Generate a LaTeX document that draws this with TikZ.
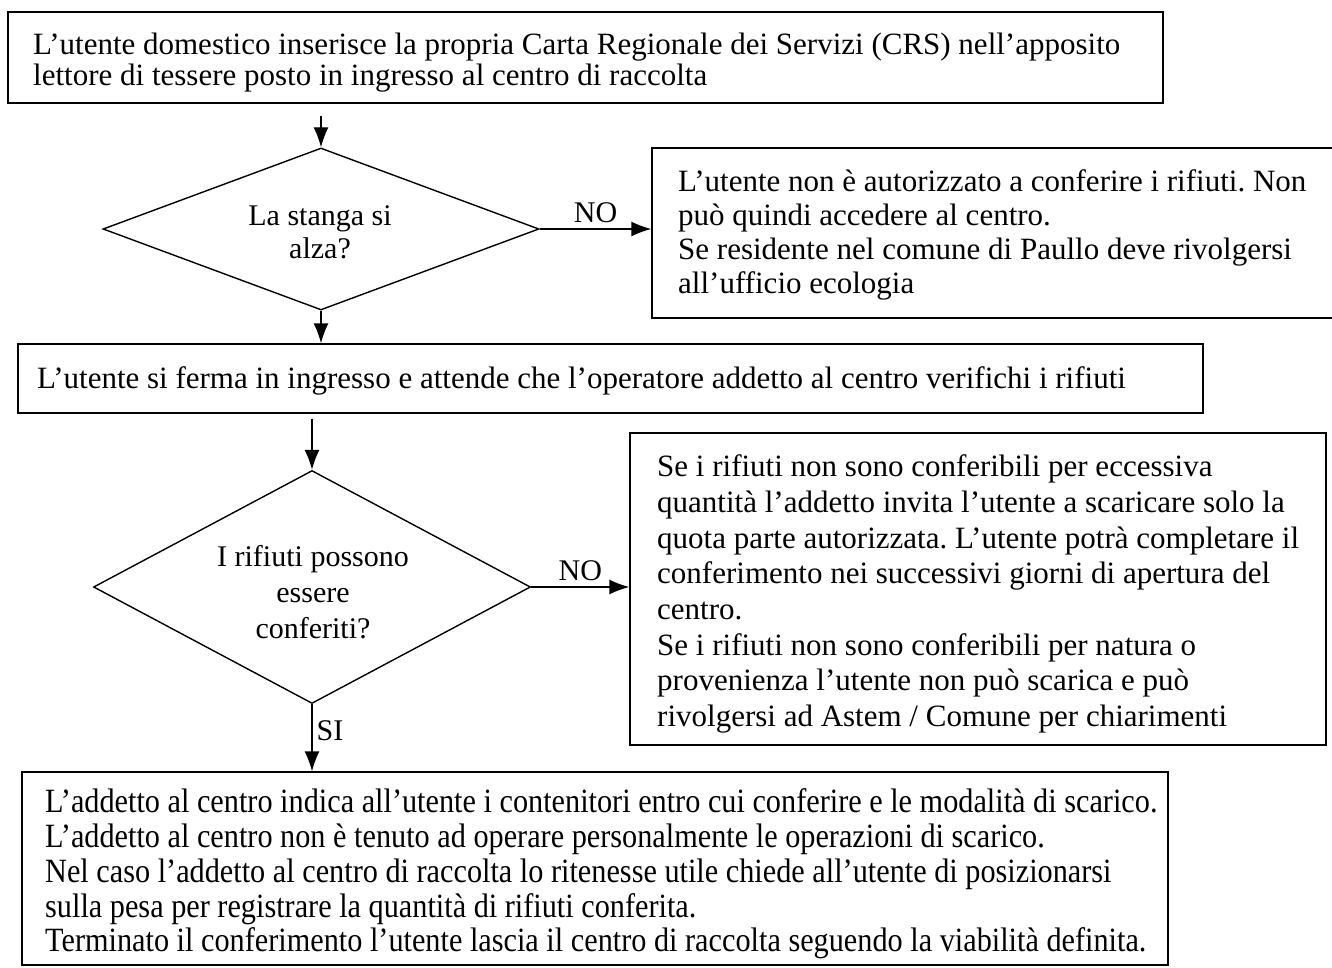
\documentclass[tikz,border=0pt]{standalone}
\usepackage{fontspec}
\setmainfont{Liberation Serif}
\newfontfamily\condfont[FakeStretch=0.89]{Liberation Serif}
\usetikzlibrary{shapes.geometric,arrows.meta}
\frenchspacing
\tikzset{
  frame/.style={draw, line width=1.4pt, rectangle, inner sep=0pt},
  txt/.style={align=left, inner sep=0pt, anchor=west, font=\fontsize{31}{33}\selectfont},
  decision/.style={draw, line width=1.4pt, diamond, inner sep=0pt, align=center},
  flow/.style={line width=1.4pt, -{Latex[length=20pt,width=15pt]}},
  lbl/.style={font=\fontsize{30}{33}\selectfont, inner sep=0pt}
}
\begin{document}
\begin{tikzpicture}[x=1pt,y=-1pt]
\useasboundingbox (0,0) rectangle (1332,968);
\fill[white] (0,0) rectangle (1332,968);

% top box
\node[frame, minimum width=1155pt, minimum height=91pt] (start) at (585.5,57.5) {};
\node[txt, font=\fontsize{31}{31}\selectfont] (startT) at (33,63)
  {L’utente domestico inserisce la propria Carta Regionale dei Servizi (CRS) nell’apposito\\lettore di tessere posto in ingresso al centro di raccolta};

% decision 1
\node[decision, aspect=2.7, minimum width=436pt, minimum height=162pt] (d1) at (321,229) {};
\node[lbl, align=center] (d1T) at (320,232) {La stanga si\\alza?};

% right box 1
\node[frame, minimum width=690pt, minimum height=170pt] (no1) at (997,233) {};
\node[txt, font=\fontsize{31}{34}\selectfont] (no1T) at (678,235)
  {L’utente non è autorizzato a conferire i rifiuti. Non\\può quindi accedere al centro.\\Se residente nel comune di Paullo deve rivolgersi\\all’ufficio ecologia};

% wait box
\node[frame, minimum width=1185pt, minimum height=69pt] (wait) at (610.5,378.5) {};
\node[txt] (waitT) at (37,381)
  {L’utente si ferma in ingresso e attende che l’operatore addetto al centro verifichi i rifiuti};

% decision 2
\node[decision, aspect=1.9, minimum width=437pt, minimum height=233pt] (d2) at (312,587) {};
\node[lbl, align=center, font=\fontsize{30}{36}\selectfont] (d2T) at (313,592) {I rifiuti possono\\essere\\conferiti?};

% right box 2
\node[frame, minimum width=696pt, minimum height=312pt] (no2) at (978,589) {};
\node[txt, font=\fontsize{31}{35.7}\selectfont] (no2T) at (657,594)
  {Se i rifiuti non sono conferibili per eccessiva\\quantità l’addetto invita l’utente a scaricare solo la\\quota parte autorizzata. L’utente potrà completare il\\conferimento nei successivi giorni di apertura del\\centro.\\Se i rifiuti non sono conferibili per natura o\\provenienza l’utente non può scarica e può\\rivolgersi ad Astem / Comune per chiarimenti};

% end box
\node[frame, minimum width=1146pt, minimum height=193pt] (end) at (595,868.5) {};
\node[txt, font=\condfont\fontsize{34}{34.7}\selectfont] (endT) at (45,874)
  {L’addetto al centro indica all’utente i contenitori entro cui conferire e le modalità di scarico.\\L’addetto al centro non è tenuto ad operare personalmente le operazioni di scarico.\\Nel caso l’addetto al centro di raccolta lo ritenesse utile chiede all’utente di posizionarsi\\sulla pesa per registrare la quantità di rifiuti conferita.\\Terminato il conferimento l’utente lascia il centro di raccolta seguendo la viabilità definita.};

% connectors
\draw[flow, shorten <=12pt] (start.south -| d1.north) -- (d1.north);
\draw[flow] (d1.east) -- node[lbl, above=6pt] (no1lbl) {NO} (d1.east -| no1.west);
\draw[flow] (d1.south) -- (d1.south |- wait.north);
\draw[flow, shorten <=5pt] (wait.south -| d2.north) -- (d2.north);
\draw[flow] (d2.east) -- node[lbl, above=6pt] (no2lbl) {NO} (d2.east -| no2.west);
\draw[flow] (d2.south) -- node[lbl, right=4pt, pos=0.4] (silbl) {SI} (d2.south |- end.north);
\end{tikzpicture}
\end{document}
